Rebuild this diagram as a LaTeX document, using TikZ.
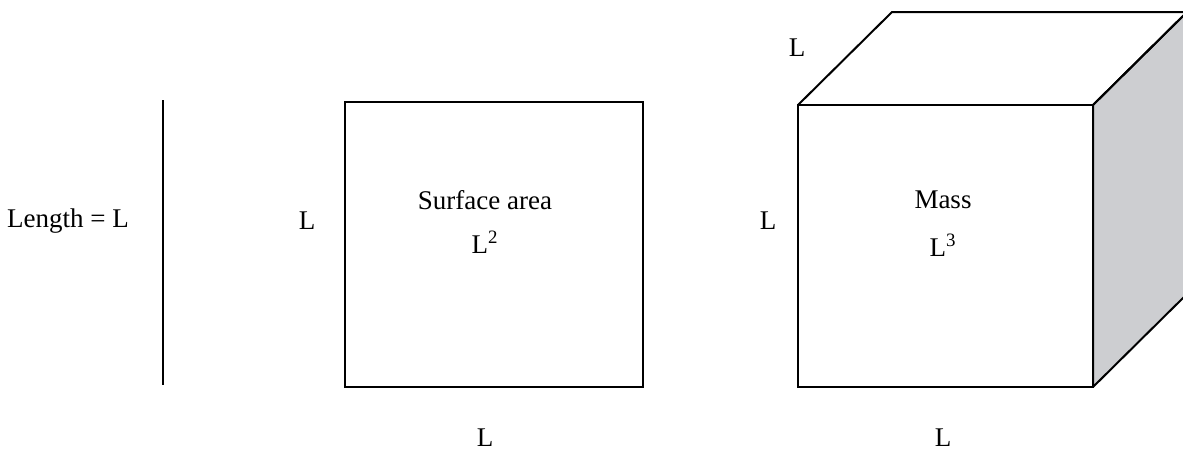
\documentclass[tikz,border=0pt]{standalone}
\usepackage{fontspec}
\setmainfont{Liberation Serif}
\definecolor{sidegrey}{RGB}{205,206,209}
\begin{document}
\begin{tikzpicture}[x=0.5pt,y=-0.5pt,
  edge/.style={draw=black,line width=1pt},
  lbl/.style={font=\fontsize{13.5pt}{16pt}\selectfont,inner sep=0pt,anchor=center}]
\useasboundingbox (0,0) rectangle (1183,451);
\clip (0,0) rectangle (1183,451);
% length line
\coordinate (lt) at (163,100);
\coordinate (lb) at (163,385);
\draw[edge] (lt) -- (lb);
\node[lbl] (lenl) at (68,221) {Length = L};
% square
\coordinate (sq1) at (345,102);
\coordinate (sq2) at (643,387);
\draw[edge] (sq1) rectangle (sq2);
\node[lbl] (sqside) at (307,221) {L};
\node[lbl] (sqtxt) at (485,200) {Surface area};
\node[lbl] (sqexp) at (485,242) {L\textsuperscript{2}};
\node[lbl] (sqbot) at (485,438) {L};
% cube
\coordinate (fa) at (798,105);
\coordinate (fb) at (1093,105);
\coordinate (fc) at (1093,387);
\coordinate (fd) at (798,387);
\coordinate (ba) at (892,12);
\coordinate (bb) at (1187,12);
\coordinate (bc) at (1187,294);
\draw[edge,fill=sidegrey,line join=round] (fb) -- (bb) -- (bc) -- (fc) -- cycle;
\draw[edge,line join=round] (fa) -- (ba) -- (bb) -- (fb);
\draw[edge] (fa) rectangle (fc);
\node[lbl] (cside) at (768,221) {L};
\node[lbl] (ctop) at (797,48) {L};
\node[lbl] (ctxt) at (943,200) {Mass};
\node[lbl] (cexp) at (943,245) {L\textsuperscript{3}};
\node[lbl] (cbot) at (943,438) {L};
\end{tikzpicture}
\end{document}
